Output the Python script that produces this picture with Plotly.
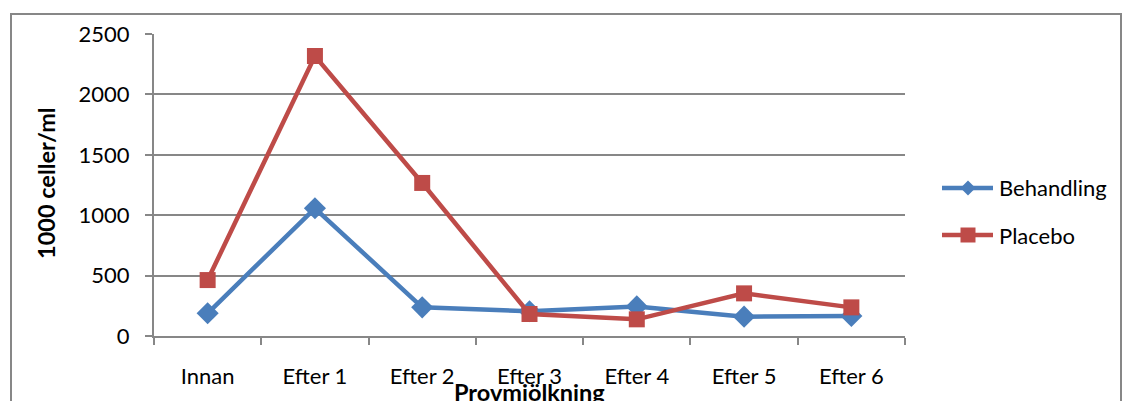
import plotly.graph_objects as go

# Somatic cell counts per sampling occasion (1000 cells/ml)
categories = ["Innan", "Efter 1", "Efter 2", "Efter 3", "Efter 4", "Efter 5", "Efter 6"]
behandling = [188, 1057, 237, 205, 245, 160, 165]
placebo = [463, 2318, 1267, 182, 138, 353, 237]
y_ticks = [0, 500, 1000, 1500, 2000, 2500]
series_names = ["Behandling", "Placebo"]

FONT = "Lato, Open Sans, sans-serif"
GRID = "#878787"
BLUE = "#4A7EBB"
RED = "#BE4B48"

W, H = 1122, 401
L, R, T, B = 154, 217, 34, 65
pw, ph = W - L - R, H - T - B


def px_x(x):
    return (x - L) / pw


def px_y(y):
    return (H - B - y) / ph


fig = go.Figure()
fig.add_trace(go.Scatter(
    x=categories, y=behandling, name=series_names[0], mode="lines+markers",
    line=dict(color=BLUE, width=4.5),
    marker=dict(symbol="diamond", size=17, color=BLUE),
))
fig.add_trace(go.Scatter(
    x=categories, y=placebo, name=series_names[1], mode="lines+markers",
    line=dict(color=RED, width=4.5),
    marker=dict(symbol="square", size=16, color=RED),
))

# Legend keys: a long line segment with the series marker in the middle
shapes = [
    dict(type="rect", xref="paper", yref="paper",
         x0=px_x(11), x1=px_x(1121), y0=px_y(430), y1=px_y(14),
         line=dict(color=GRID, width=2), fillcolor="rgba(0,0,0,0)", layer="below"),
]
annotations = [
    dict(text="<b>1000 celler/ml</b>", textangle=-90, xref="paper", yref="paper",
         x=px_x(46), y=px_y(183), showarrow=False, font=dict(size=23.5),
         xanchor="center", yanchor="middle"),
    dict(text="<b>Provmjölkning</b>", xref="paper", yref="paper",
         x=0.5, y=px_y(392), showarrow=False, font=dict(size=23.5),
         xanchor="center", yanchor="middle"),
]
legend_rows = [(188, BLUE, "diamond"), (235, RED, "square")]
for name, (ly, color, sym) in zip(series_names, legend_rows):
    shapes.append(dict(type="line", xref="paper", yref="paper",
                       x0=px_x(942), x1=px_x(993), y0=px_y(ly), y1=px_y(ly),
                       line=dict(color=color, width=4.5)))
    cx = 968
    if sym == "diamond":
        path = (f"M {px_x(cx - 7.5)} {px_y(ly)} L {px_x(cx)} {px_y(ly - 7.5)} "
                f"L {px_x(cx + 7.5)} {px_y(ly)} L {px_x(cx)} {px_y(ly + 7.5)} Z")
    else:
        path = (f"M {px_x(cx - 7.5)} {px_y(ly - 7.5)} L {px_x(cx + 7.5)} {px_y(ly - 7.5)} "
                f"L {px_x(cx + 7.5)} {px_y(ly + 7.5)} L {px_x(cx - 7.5)} {px_y(ly + 7.5)} Z")
    shapes.append(dict(type="path", xref="paper", yref="paper", path=path,
                       fillcolor=color, line=dict(color=color, width=0)))
    annotations.append(dict(text=name, xref="paper", yref="paper",
                            x=px_x(997), y=px_y(ly), showarrow=False,
                            font=dict(size=22), xanchor="left", yanchor="middle"))

fig.update_layout(
    width=W, height=H,
    margin=dict(l=L, r=R, t=T, b=B, pad=0),
    paper_bgcolor="white", plot_bgcolor="white",
    font=dict(family=FONT, size=22, color="black"),
    showlegend=False,
    xaxis=dict(
        type="category", range=[-0.5, 6.5],
        showline=True, linecolor=GRID, linewidth=2,
        ticks="outside", tickson="boundaries", ticklen=7, tickwidth=2,
        tickcolor=GRID, showgrid=False, zeroline=False,
        ticklabelstandoff=20,
    ),
    yaxis=dict(
        range=[0, 2500], tickvals=y_ticks,
        showline=True, linecolor=GRID, linewidth=2,
        ticks="outside", ticklen=7, tickwidth=2, tickcolor=GRID,
        showgrid=True, gridcolor=GRID, gridwidth=2, zeroline=False,
        ticklabelstandoff=11,
    ),
    annotations=annotations,
    shapes=shapes,
)

fig.write_html("out.html")
